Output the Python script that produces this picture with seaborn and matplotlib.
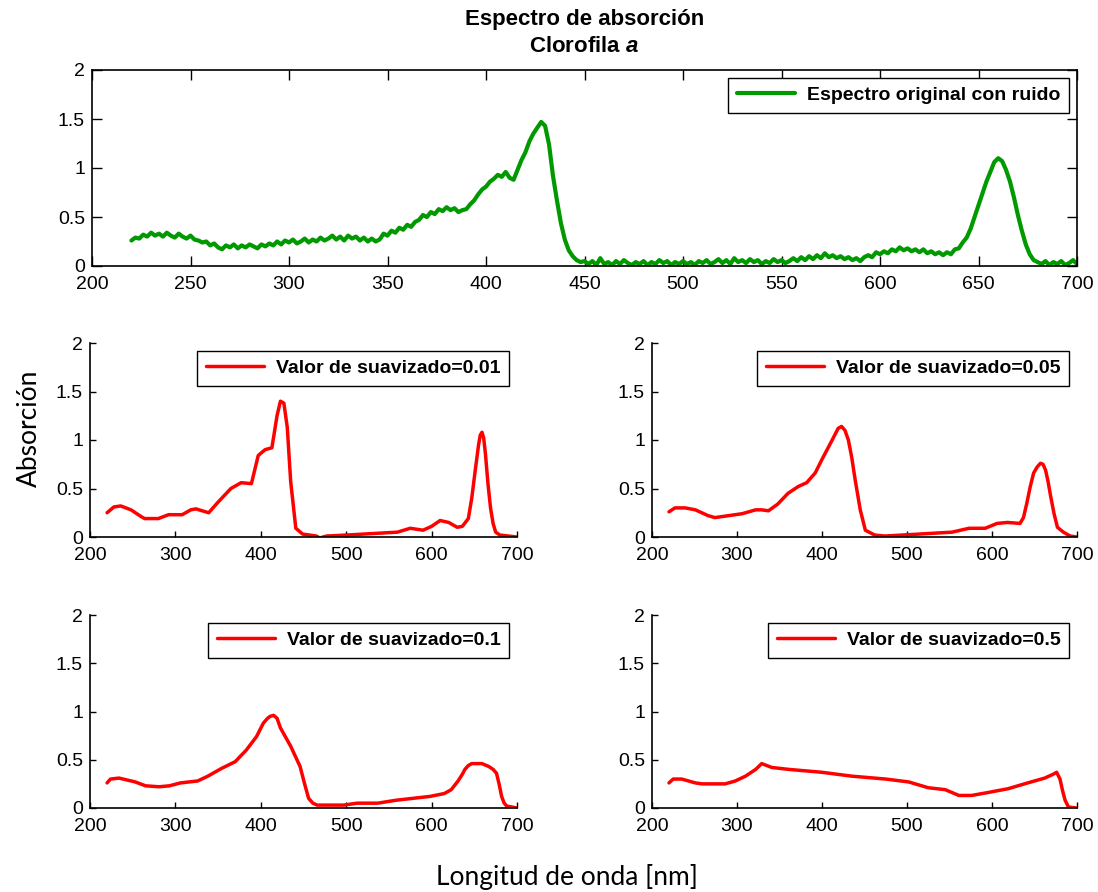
import numpy as np
import pandas as pd
import matplotlib
matplotlib.use("Agg")
import matplotlib.pyplot as plt
import seaborn as sns

# ---- data -------------------------------------------------------------
# noisy absorption spectrum of chlorophyll a, sampled every 2 nm (220-700 nm)
wl_raw = np.arange(220, 701, 2)
abs_raw = [
    0.26, 0.29, 0.28, 0.32, 0.30, 0.34, 0.31, 0.33, 0.30, 0.34, 0.31, 0.29, 0.33, 0.30, 0.28, 0.31, 0.27, 0.26, 0.24, 0.25, 0.21,
    0.23, 0.19, 0.17, 0.21, 0.19, 0.22, 0.18, 0.21, 0.19, 0.22, 0.20, 0.18, 0.22, 0.20, 0.23, 0.21, 0.25, 0.22, 0.26, 0.24,
    0.27, 0.23, 0.25, 0.28, 0.24, 0.27, 0.25, 0.29, 0.26, 0.28, 0.31, 0.27, 0.30, 0.26, 0.31, 0.28, 0.30, 0.26, 0.29, 0.25,
    0.28, 0.25, 0.27, 0.33, 0.31, 0.36, 0.34, 0.39, 0.37, 0.42, 0.40, 0.45, 0.47, 0.52, 0.50, 0.55, 0.53, 0.58, 0.56, 0.60,
    0.57, 0.59, 0.55, 0.57, 0.58, 0.63, 0.67, 0.73, 0.78, 0.81, 0.86, 0.89, 0.93, 0.91, 0.96, 0.90, 0.88, 0.98, 1.08, 1.16,
    1.27, 1.35, 1.41, 1.47, 1.43, 1.24, 0.92, 0.67, 0.44, 0.27, 0.16, 0.10, 0.06, 0.04, 0.05, 0.02, 0.05, 0.01, 0.08, 0.02,
    0.04, 0.01, 0.05, 0.02, 0.06, 0.03, 0.01, 0.04, 0.02, 0.05, 0.01, 0.04, 0.02, 0.06, 0.03, 0.05, 0.01, 0.04, 0.02, 0.05,
    0.02, 0.04, 0.01, 0.05, 0.03, 0.06, 0.02, 0.04, 0.07, 0.03, 0.06, 0.02, 0.08, 0.04, 0.06, 0.03, 0.07, 0.04, 0.06, 0.02,
    0.05, 0.03, 0.07, 0.04, 0.06, 0.03, 0.05, 0.08, 0.05, 0.09, 0.06, 0.10, 0.07, 0.11, 0.08, 0.13, 0.09, 0.11, 0.08, 0.10,
    0.07, 0.09, 0.06, 0.08, 0.05, 0.09, 0.11, 0.09, 0.14, 0.12, 0.15, 0.13, 0.17, 0.15, 0.19, 0.16, 0.18, 0.15, 0.17, 0.14,
    0.17, 0.13, 0.15, 0.12, 0.14, 0.11, 0.14, 0.12, 0.17, 0.18, 0.24, 0.29, 0.38, 0.50, 0.62, 0.74, 0.86, 0.96, 1.06, 1.10,
    1.07, 0.98, 0.86, 0.70, 0.52, 0.36, 0.22, 0.12, 0.06, 0.04, 0.02, 0.05, 0.01, 0.04, 0.02, 0.05, 0.01, 0.03, 0.06, 0.02,
]
assert len(abs_raw) == len(wl_raw)

# smoothed spectra (smoothing parameter 0.01)
wl_s001 = [220, 228, 236, 248, 260, 264, 280, 292, 308, 318, 324, 339, 349, 365, 377, 389, 397, 405, 413,
           419, 423, 427, 431, 435, 441, 449, 465, 469, 477, 500, 520, 540, 560, 575, 590, 600, 610, 620,
           630, 636, 643, 647, 651, 655, 657, 659, 661, 663, 666, 669, 672, 675, 680, 690, 700]
abs_s001 = [0.25, 0.31, 0.32, 0.28, 0.21, 0.19, 0.19, 0.23, 0.23, 0.28, 0.29, 0.25, 0.35, 0.50, 0.56, 0.55, 0.84, 0.90, 0.92,
            1.25, 1.40, 1.38, 1.13, 0.57, 0.09, 0.03, 0.01, -0.01, 0.01, 0.02, 0.03, 0.04, 0.05, 0.09, 0.07, 0.11, 0.17, 0.15,
            0.10, 0.11, 0.19, 0.40, 0.68, 0.95, 1.05, 1.08, 1.02, 0.86, 0.55, 0.30, 0.14, 0.05, 0.02, 0.01, 0.00]

# smoothing parameter 0.05
wl_s005 = [220, 227, 239, 251, 266, 274, 290, 306, 322, 329, 337, 348, 360, 372, 382, 392, 400, 412, 419, 423,
           427, 431, 435, 439, 445, 451, 462, 474, 494, 514, 553, 573, 592, 606, 618, 633, 637, 641, 645, 649,
           653, 657, 660, 663, 666, 669, 673, 677, 684, 692, 700]
abs_s005 = [0.26, 0.30, 0.30, 0.28, 0.22, 0.20, 0.22, 0.24, 0.28, 0.28, 0.27, 0.34, 0.45, 0.52, 0.56, 0.66, 0.80, 1.00, 1.12, 1.14,
            1.10, 1.00, 0.82, 0.59, 0.28, 0.07, 0.02, 0.01, 0.02, 0.03, 0.05, 0.09, 0.09, 0.14, 0.15, 0.14, 0.20, 0.35, 0.52, 0.66,
            0.72, 0.76, 0.75, 0.69, 0.57, 0.42, 0.24, 0.10, 0.05, 0.01, 0.00]

# smoothing parameter 0.1
wl_s01 = [220, 224, 234, 253, 265, 281, 293, 306, 326, 338, 354, 370, 383, 395, 403, 408, 411, 415, 419, 423,
          435, 446, 451, 456, 461, 466, 497, 513, 537, 558, 578, 598, 615, 623, 631, 636, 639, 643, 647, 659,
          667, 672, 676, 679, 682, 685, 688, 694, 700]
abs_s01 = [0.26, 0.30, 0.31, 0.27, 0.23, 0.22, 0.23, 0.26, 0.28, 0.33, 0.41, 0.48, 0.60, 0.74, 0.88, 0.93, 0.95, 0.96, 0.93, 0.83,
           0.64, 0.43, 0.26, 0.10, 0.05, 0.03, 0.03, 0.05, 0.05, 0.08, 0.10, 0.12, 0.15, 0.19, 0.28, 0.35, 0.40, 0.44, 0.46, 0.46,
           0.43, 0.40, 0.36, 0.25, 0.12, 0.05, 0.02, 0.01, 0.00]

# smoothing parameter 0.5
wl_s05 = [220, 225, 235, 251, 259, 286, 298, 310, 322, 329, 341, 361, 400, 435, 475, 502, 525, 545, 561, 576,
          595, 619, 642, 662, 672, 676, 680, 683, 686, 690, 700]
abs_s05 = [0.26, 0.30, 0.30, 0.26, 0.25, 0.25, 0.28, 0.33, 0.40, 0.46, 0.42, 0.40, 0.37, 0.33, 0.30, 0.27, 0.21, 0.19, 0.13, 0.13,
           0.16, 0.20, 0.26, 0.31, 0.35, 0.37, 0.30, 0.18, 0.08, 0.01, 0.00]

smooth_sets = [
    ("Valor de suavizado=0.01", wl_s001, abs_s001),
    ("Valor de suavizado=0.05", wl_s005, abs_s005),
    ("Valor de suavizado=0.1", wl_s01, abs_s01),
    ("Valor de suavizado=0.5", wl_s05, abs_s05),
]

y_ticks = [0, 0.5, 1, 1.5, 2]
y_tick_labels = ["0", "0.5", "1", "1.5", "2"]
x_ticks_top = [200, 250, 300, 350, 400, 450, 500, 550, 600, 650, 700]
x_ticks_small = [200, 300, 400, 500, 600, 700]

GREEN = "#009a00"
RED = "#ff0000"

# ---- style ------------------------------------------------------------
sns.set_theme(style="ticks")
plt.rcParams["font.family"] = ["Liberation Sans", "DejaVu Sans"]
plt.rcParams["text.color"] = "black"
plt.rcParams["axes.labelcolor"] = "black"
plt.rcParams["xtick.color"] = "black"
plt.rcParams["ytick.color"] = "black"
plt.rcParams["mathtext.fontset"] = "custom"
plt.rcParams["mathtext.it"] = "Liberation Sans:italic:bold"
plt.rcParams["mathtext.rm"] = "Liberation Sans:bold"

fig = plt.figure(figsize=(10.98, 8.92), dpi=100)

W, H = 1098.0, 892.0


def axes_px(left, top, right, bottom):
    return fig.add_axes([left / W, 1 - bottom / H, (right - left) / W, (bottom - top) / H])


def style_axes(ax, xticks, full_box, tick_len):
    ax.set_xlim(200, 700)
    ax.set_ylim(0, 2)
    ax.set_xticks(xticks)
    ax.set_xticklabels([str(t) for t in xticks])
    ax.set_yticks(y_ticks)
    ax.set_yticklabels(y_tick_labels)
    ax.set_xlabel("")
    ax.set_ylabel("")
    ax.tick_params(direction="in", length=tick_len, width=1.0, labelsize=14,
                   colors="black", top=full_box, right=full_box)
    ax.tick_params(axis="x", pad=7)
    ax.tick_params(axis="y", pad=5)
    for side, sp in ax.spines.items():
        sp.set_color("black")
        sp.set_linewidth(1.2)
        if side in ("top", "right"):
            sp.set_visible(full_box)
    ax.set_facecolor("white")


def add_legend(ax):
    leg = ax.legend(loc="upper right", frameon=True, fancybox=False, shadow=False,
                    prop={"family": "Liberation Sans", "weight": "bold", "size": 14},
                    borderaxespad=0.4, handlelength=3.0, handletextpad=0.6,
                    borderpad=0.45, edgecolor="black", framealpha=1.0)
    leg.get_frame().set_linewidth(1.0)
    for t in leg.get_texts():
        t.set_color("black")
    return leg


# top panel: original noisy spectrum
ax_top = axes_px(92, 70, 1077, 266)
df_raw = pd.DataFrame({"wl": wl_raw, "abs": abs_raw})
sns.lineplot(data=df_raw, x="wl", y="abs", ax=ax_top, color=GREEN, linewidth=3.0,
             label="Espectro original con ruido")
style_axes(ax_top, x_ticks_top, True, 7)
add_legend(ax_top)
ax_top.set_title("Espectro de absorción\nClorofila $a$", fontsize=16, fontweight="bold",
                 color="black", pad=13, linespacing=1.35)

# smoothed panels
boxes = [
    (90, 343, 517, 537),
    (652, 343, 1077, 537),
    (90, 615, 517, 808),
    (652, 615, 1077, 808),
]
for (label, wl, ab), box in zip(smooth_sets, boxes):
    ax = axes_px(*box)
    df = pd.DataFrame({"wl": wl, "abs": ab})
    sns.lineplot(data=df, x="wl", y="abs", ax=ax, color=RED, linewidth=2.5, label=label)
    style_axes(ax, x_ticks_small, False, 4)
    add_legend(ax)

fig.text(0.027, 0.52, "Absorción", rotation=90, ha="center", va="center",
         fontsize=19, family=["Lato", "DejaVu Sans"])
fig.text(0.516, 0.017, "Longitud de onda [nm]", ha="center", va="center",
         fontsize=19, family=["Lato", "DejaVu Sans"])

fig.savefig("out.png", dpi=100, facecolor="white")
